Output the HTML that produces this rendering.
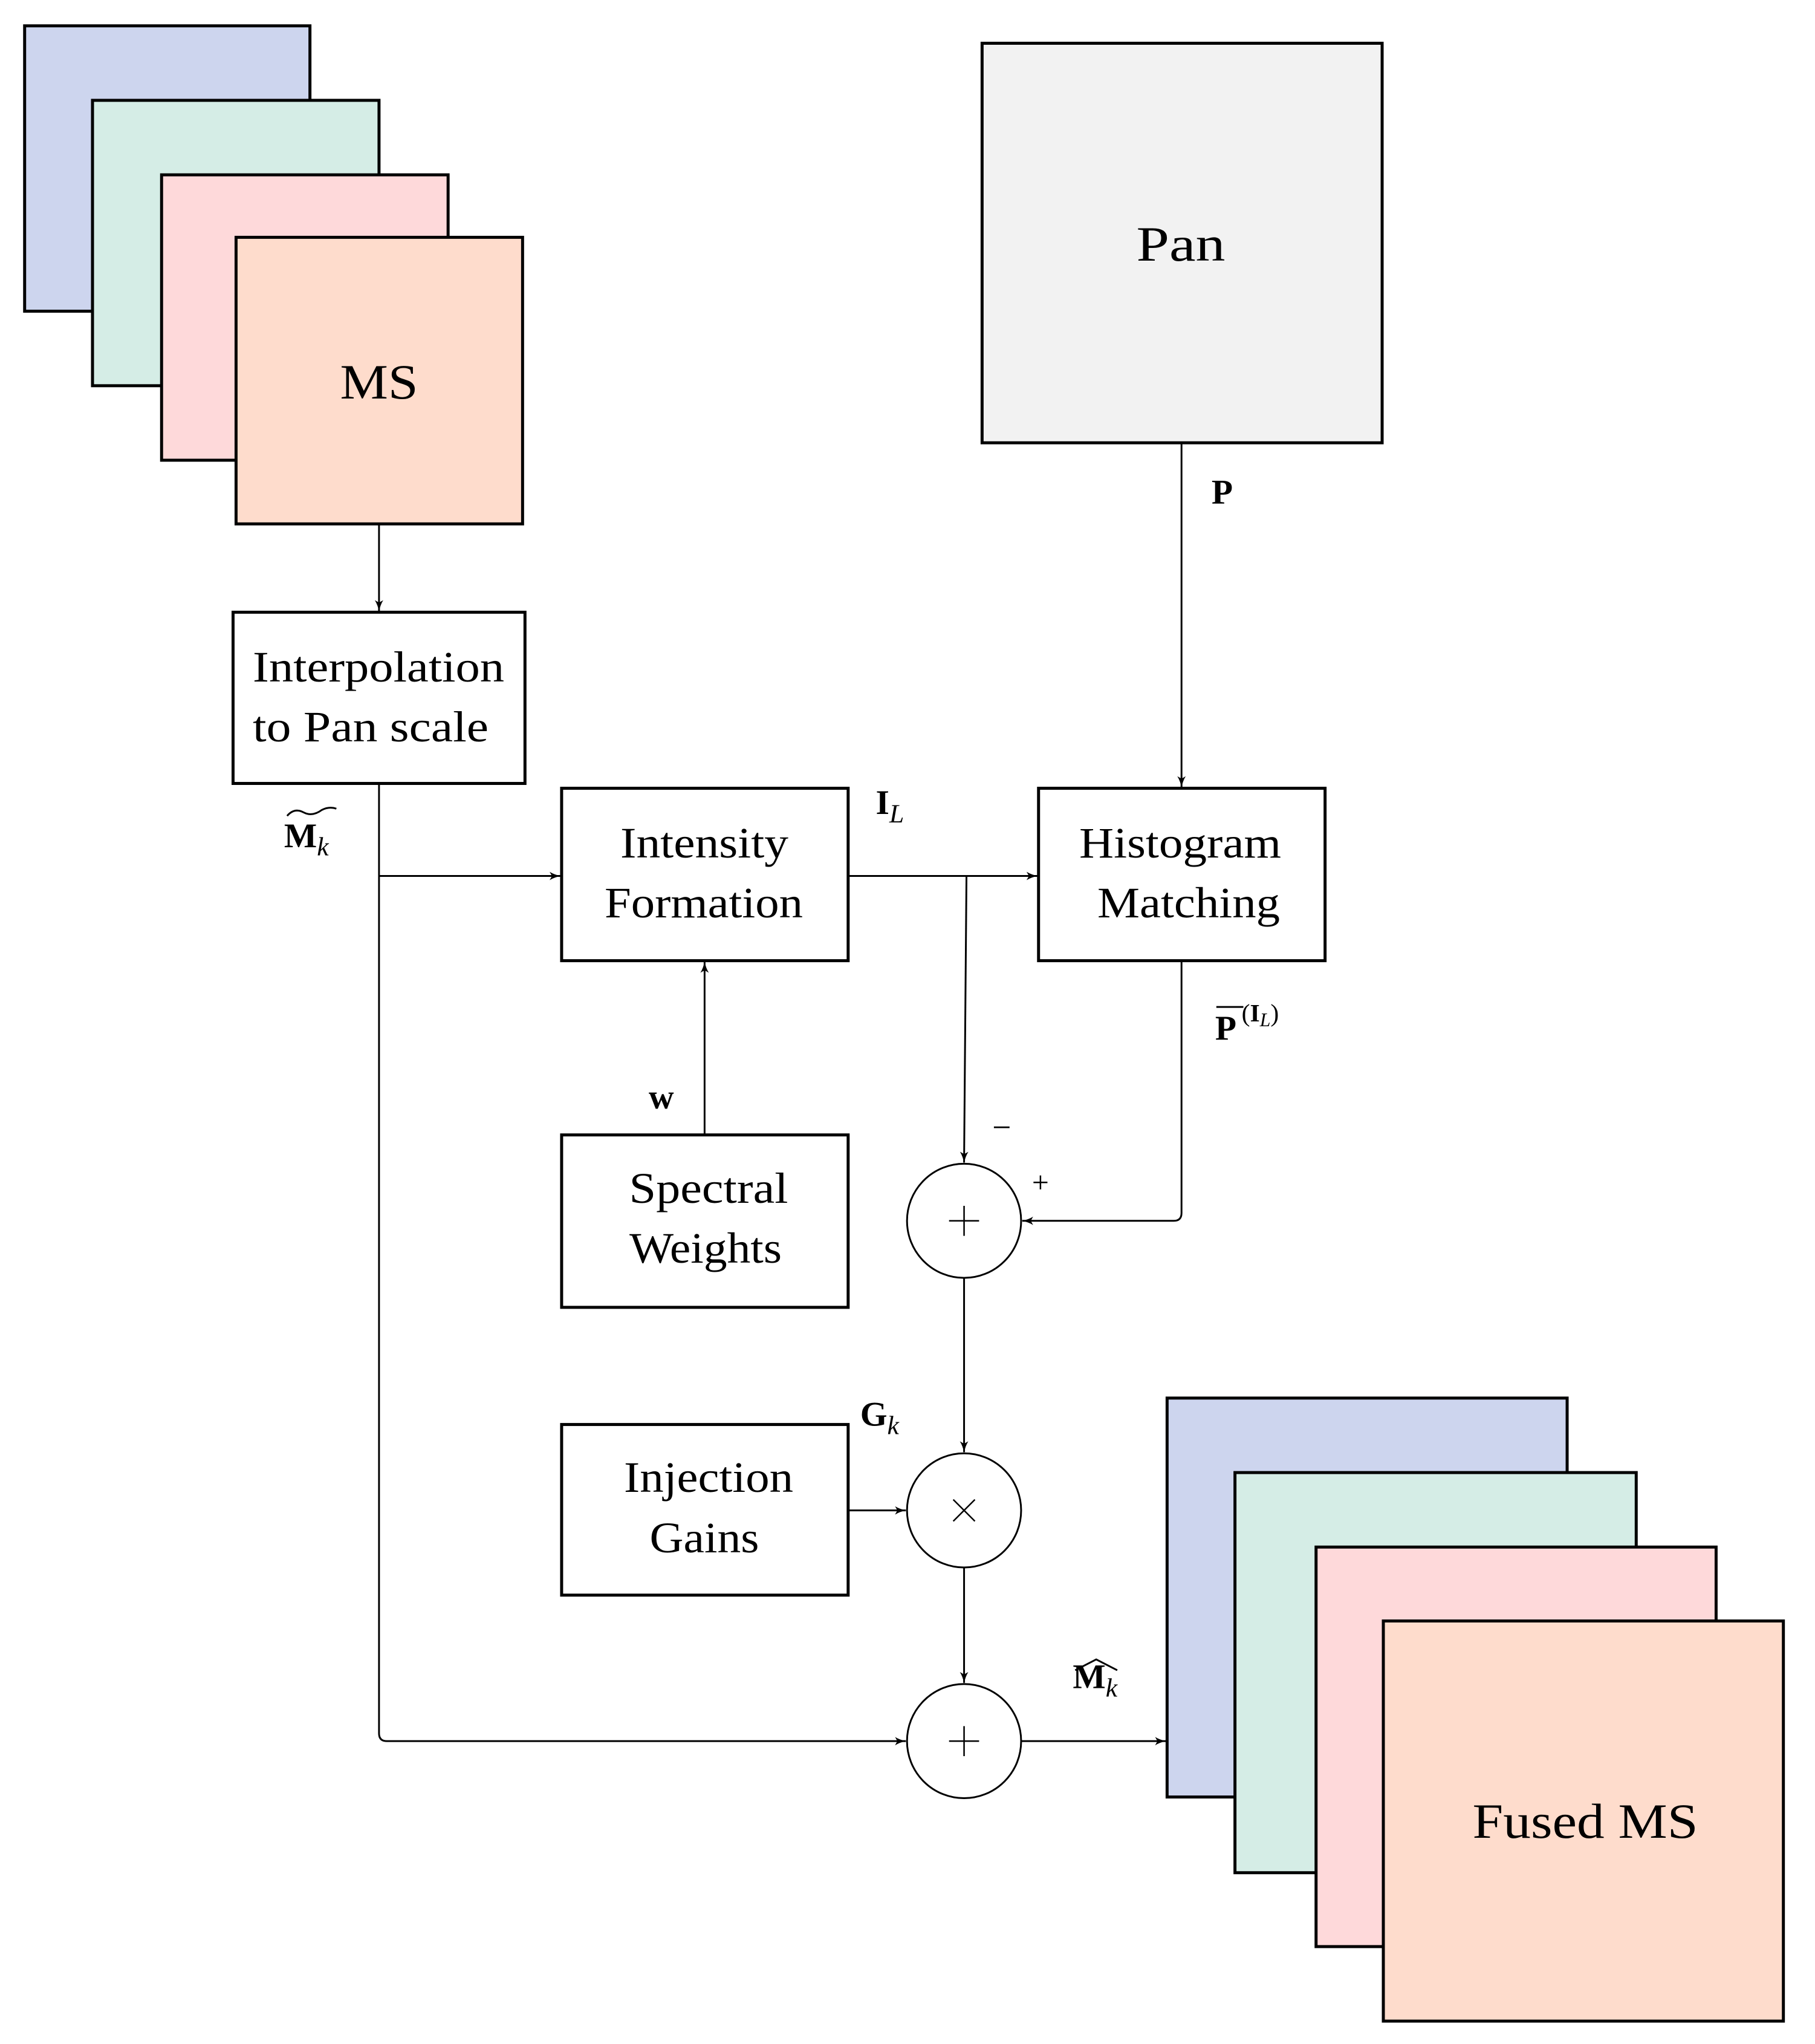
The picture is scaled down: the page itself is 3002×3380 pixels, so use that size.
<!DOCTYPE html>
<html><head><meta charset="utf-8"><style>
html,body{margin:0;padding:0;background:#fff}
svg{display:block}
text{font-family:"Liberation Serif",serif;fill:#000}
</style></head><body>
<svg width="3002" height="3380" viewBox="0 0 3002 3380" xmlns="http://www.w3.org/2000/svg">
<defs>
<marker id="b" markerWidth="20" markerHeight="16" refX="18" refY="8" orient="auto" markerUnits="userSpaceOnUse">
<path d="M0,1 Q8,6 19,8 Q8,10 0,15 L4,8 Z" fill="#000"/>
</marker>
</defs>
<g transform="scale(0.9935)">
<g stroke="#000" stroke-width="5">
<rect x="41" y="43" width="475" height="475" fill="#cdd5ee"/>
<rect x="154" y="167" width="477" height="475" fill="#d5ede6"/>
<rect x="269" y="291" width="477" height="475" fill="#fed9da"/>
<rect x="393" y="395" width="477" height="477" fill="#fedccc"/>
<rect x="1635" y="72" width="666" height="665" fill="#f2f2f2"/>
<rect x="388" y="1019" width="486" height="285" fill="#fff"/>
<rect x="935" y="1312" width="477" height="287" fill="#fff"/>
<rect x="1729" y="1312" width="477" height="287" fill="#fff"/>
<rect x="935" y="1889" width="477" height="287" fill="#fff"/>
<rect x="935" y="2371" width="477" height="284" fill="#fff"/>
<rect x="1943" y="2327" width="666" height="664" fill="#cdd5ee"/>
<rect x="2056" y="2451" width="668" height="666" fill="#d5ede6"/>
<rect x="2191" y="2575" width="666" height="665" fill="#fed9da"/>
<rect x="2303" y="2698" width="666" height="666" fill="#fedccc"/>
</g>
<g stroke="#000" stroke-width="3" fill="none">
<circle cx="1605" cy="2032" r="95" fill="#fff"/>
<circle cx="1605" cy="2514" r="95" fill="#fff"/>
<circle cx="1605" cy="2898" r="95" fill="#fff"/>
<path d="M1580,2032 H1630 M1605,2007 V2057" stroke-width="2.5"/>
<path d="M1587,2496 L1623,2532 M1623,2496 L1587,2532" stroke-width="2.5"/>
<path d="M1580,2898 H1630 M1605,2873 V2923" stroke-width="2.5"/>
<g marker-end="url(#b)">
<path d="M631,874 V1017"/>
<path d="M631,1304 V2885 Q631,2898 644,2898 H1508"/>
<path d="M631,1458 H933"/>
<path d="M1412,1458 H1727"/>
<path d="M1609,1458 L1605,1935"/>
<path d="M1967,737 V1310"/>
<path d="M1967,1599 V2019 Q1967,2032 1954,2032 H1702"/>
<path d="M1173,1889 V1601"/>
<path d="M1605,2127 V2417"/>
<path d="M1605,2609 V2801"/>
<path d="M1412,2514 H1508"/>
<path d="M1700,2898 H1941"/>
</g>
<path d="M478,1358 Q490,1344 505,1352 T536,1348 Q548,1342 560,1346" stroke-width="3"/>
<path d="M1790,2780 L1825,2762 L1860,2780" stroke-width="3"/>
<path d="M2025,1676 H2070" stroke-width="3"/>
</g>
<g font-size="58" font-weight="bold">
<text x="2017" y="838">P</text>
<text x="1458" y="1355">I<tspan font-weight="normal" font-style="italic" font-size="44" dy="14">L</tspan></text>
<text x="473" y="1410">M<tspan font-weight="normal" font-style="italic" font-size="44" dy="14">k</tspan></text>
<text x="1080" y="1845">w</text>
<text x="2023" y="1730">P</text>
<text x="2067" y="1700" font-size="42"><tspan font-weight="normal">(</tspan>I<tspan font-weight="normal" font-style="italic" font-size="32" dy="8">L</tspan><tspan font-weight="normal" dy="-8">)</tspan></text>
<text x="1432" y="2373">G<tspan font-weight="normal" font-style="italic" font-size="44" dy="14">k</tspan></text>
<text x="1786" y="2810">M<tspan font-weight="normal" font-style="italic" font-size="44" dy="14">k</tspan></text>
</g>
<text x="1652" y="1895" font-size="56">−</text>
<text x="1718" y="1985" font-size="50">+</text>
</g>
<g font-size="72" text-anchor="middle" lengthAdjust="spacingAndGlyphs">
<text x="627" y="659" font-size="82" textLength="129" lengthAdjust="spacingAndGlyphs">MS</text>
<text x="1953" y="431" font-size="82" textLength="147" lengthAdjust="spacingAndGlyphs">Pan</text>
<text x="626" y="1127" textLength="416" lengthAdjust="spacingAndGlyphs">Interpolation</text>
<text x="613" y="1226" textLength="390" lengthAdjust="spacingAndGlyphs">to Pan scale</text>
<text x="1165" y="1418" textLength="278" lengthAdjust="spacingAndGlyphs">Intensity</text>
<text x="1164" y="1517" textLength="328" lengthAdjust="spacingAndGlyphs">Formation</text>
<text x="1952" y="1418" textLength="334" lengthAdjust="spacingAndGlyphs">Histogram</text>
<text x="1966" y="1517" textLength="302" lengthAdjust="spacingAndGlyphs">Matching</text>
<text x="1172" y="1989" textLength="263" lengthAdjust="spacingAndGlyphs">Spectral</text>
<text x="1167" y="2088" textLength="252" lengthAdjust="spacingAndGlyphs">Weights</text>
<text x="1172" y="2467" textLength="280" lengthAdjust="spacingAndGlyphs">Injection</text>
<text x="1165" y="2567" textLength="181" lengthAdjust="spacingAndGlyphs">Gains</text>
<text x="2622" y="3039" font-size="82" textLength="373" lengthAdjust="spacingAndGlyphs">Fused MS</text>
</g>
</svg>
</body></html>
